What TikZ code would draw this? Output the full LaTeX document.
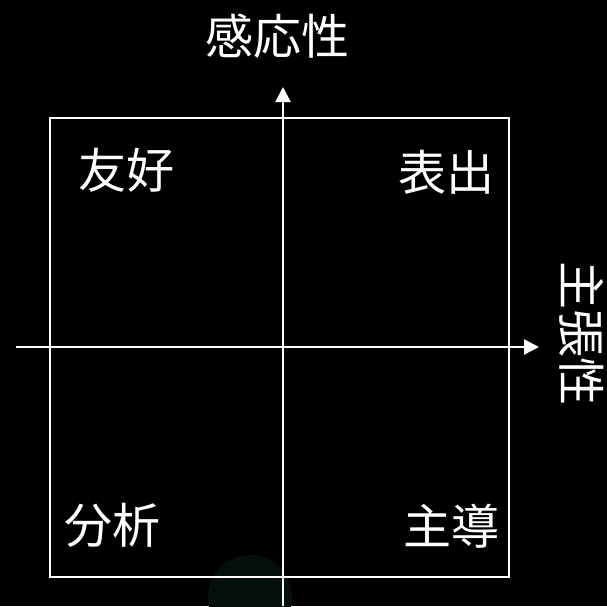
\documentclass[tikz,border=0pt]{standalone}
\usepackage{fontspec}
\newfontfamily\jpfont{Noto Sans CJK JP}
\usetikzlibrary{arrows.meta}
\begin{document}
\begin{tikzpicture}[x=1pt,y=-1pt,
  axis/.style={draw=white,line width=2.3pt,-{Triangle[width=15pt,length=15pt]}},
  lbl/.style={text=white,font=\jpfont\fontsize{48}{48}\selectfont,inner sep=0pt}]
\fill[black] (0,0) rectangle (607,606);
\useasboundingbox (0,0) rectangle (607,606);
\fill[fill={rgb,255:red,5;green,15;blue,13}] (250,597) circle (42);
\draw[white,line width=2.3pt] (50,118) rectangle (509,577);
\coordinate (xl) at (16,347);
\coordinate (xr) at (539,347);
\coordinate (yb) at (283,606);
\coordinate (yt) at (283,87);
\draw[axis] (xl) -- (xr);
\draw[axis] (yb) -- (yt);
\node[lbl] (top) at (277,36) {感応性};
\node[lbl,rotate=-90] (right) at (582,333) {主張性};
\node[lbl] (q1) at (126,170) {友好};
\node[lbl] (q2) at (446,172) {表出};
\node[lbl] (q3) at (112,525) {分析};
\node[lbl] (q4) at (451,526) {主導};
\end{tikzpicture}
\end{document}
